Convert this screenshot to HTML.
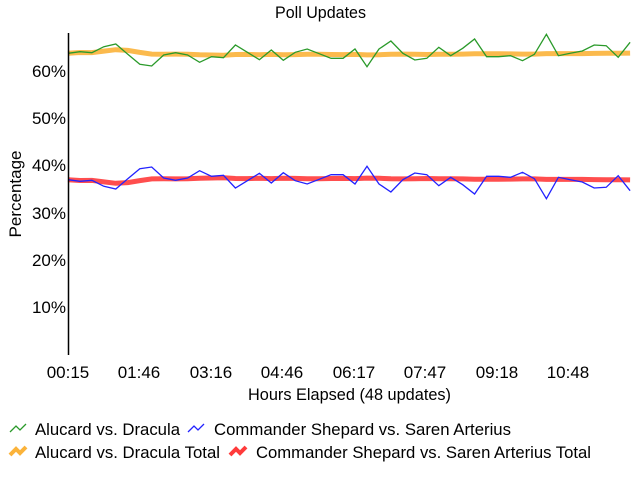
<!DOCTYPE html>
<html><head><meta charset="utf-8"><style>
html,body{margin:0;padding:0;background:#fff}
svg{display:block;font-family:"Liberation Sans",sans-serif}
</style></head><body>
<svg id="s" width="640" height="480" viewBox="0 0 640 480">
<text x="275" y="18" font-size="17" textLength="91" lengthAdjust="spacingAndGlyphs">Poll Updates</text>
<g font-size="17" text-anchor="end">
<text x="66" y="77">60%</text><text x="66" y="124">50%</text><text x="66" y="171">40%</text>
<text x="66" y="219">30%</text><text x="66" y="266">20%</text><text x="66" y="313">10%</text>
</g>
<text transform="translate(21,194) rotate(-90)" font-size="17" text-anchor="middle">Percentage</text>
<g font-size="17" text-anchor="middle">
<text x="68" y="378">00:15</text><text x="139" y="378">01:46</text><text x="211" y="378">03:16</text>
<text x="282" y="378">04:46</text><text x="354" y="378">06:17</text><text x="425" y="378">07:47</text>
<text x="497" y="378">09:18</text><text x="568" y="378">10:48</text>
</g>
<text x="248" y="400" font-size="17" textLength="203" lengthAdjust="spacingAndGlyphs">Hours Elapsed (48 updates)</text>
<g id="plot"></g>
<line x1="68.5" y1="33" x2="68.5" y2="355" stroke="#000" stroke-width="1.5"/>
<g font-size="17">
<polyline points="10,432 16,426 20,430 26,424" fill="none" stroke="#2a9a2a" stroke-width="1.3"/>
<text x="35" y="435" textLength="145" lengthAdjust="spacingAndGlyphs">Alucard vs. Dracula</text>
<polyline points="188,432 194,426 198,430 204,424" fill="none" stroke="#2222ff" stroke-width="1.3"/>
<text x="214" y="435" textLength="297" lengthAdjust="spacingAndGlyphs">Commander Shepard vs. Saren Arterius</text>
<polyline points="10,455 16,449 20,453 26,447" fill="none" stroke="#fbb33a" stroke-width="4"/>
<text x="35" y="458" textLength="185" lengthAdjust="spacingAndGlyphs">Alucard vs. Dracula Total</text>
<polyline points="230,455 236,449 240,453 246,447" fill="none" stroke="#ff3b3b" stroke-width="4"/>
<text x="256" y="458" textLength="335" lengthAdjust="spacingAndGlyphs">Commander Shepard vs. Saren Arterius Total</text>
</g>
</svg>
<script>
var g=[53.3,51.7,52.7,46.7,44,54.3,64.3,66,55,52.7,55,62.3,56.7,57.7,45,52.3,59.7,50,60.3,52.3,49,53.7,58.3,58.3,49,66.7,49,41,53.3,60,58.3,47.3,55.7,48.3,39,56.7,56.7,55.7,60.7,54.3,34.3,55.7,53.3,51,45,45.7,57.3,42.3];
function X(i){return 68+11.96*i}
var cum=[],s=0;g.forEach(function(v,i){s+=v;cum.push(s/(i+1));});
function pts(a){return a.map(function(v,i){return X(i).toFixed(1)+","+v.toFixed(1)}).join(" ")}
var p=document.getElementById("plot");
p.innerHTML=
'<polyline points="'+pts(cum)+'" fill="none" stroke="#fbb33a" stroke-width="5" opacity="0.9"/>'+
'<polyline points="'+pts(cum.map(function(v){return 233-v}))+'" fill="none" stroke="#ff3b3b" stroke-width="5" opacity="0.9"/>'+
'<polyline points="'+pts(g)+'" fill="none" stroke="#2a9a2a" stroke-width="1.3"/>'+
'<polyline points="'+pts(g.map(function(v){return 233-v}))+'" fill="none" stroke="#2222ff" stroke-width="1.3"/>';
</script>
</body></html>
